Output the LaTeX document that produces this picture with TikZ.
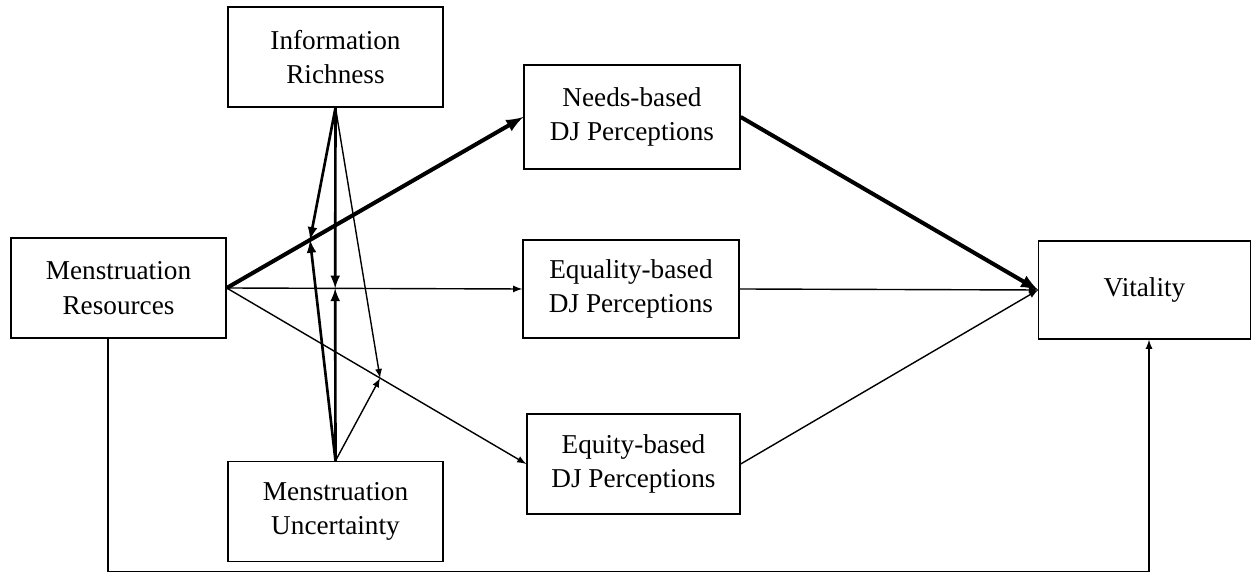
\documentclass[tikz,border=0pt]{standalone}
\usepackage{fontspec}
\setmainfont{Liberation Serif}
\begin{document}
\begin{tikzpicture}[x=0.02cm, y=-0.02cm, >=latex,
        box/.style={draw, line width=0.8pt, minimum width=4.3cm, minimum height=2cm,
            align=center, inner sep=0pt, font=\fontsize{15.5}{19.5}\selectfont},
        thinarr/.style={->, line width=0.8pt},
        midarr/.style={->, line width=1.5pt},
        thickarr/.style={->, line width=2.3pt}]
        \useasboundingbox (0,0) rectangle (1252,573);

        % predictor and moderators
        \node[box] (MR) at (118.5,288) {Menstruation\\Resources};
        \node[box] (IR) at (335.5,57) {Information\\Richness};
        \node[box] (MU) at (335.5,511.5) {Menstruation\\Uncertainty};

        % mediators
        \node[box, minimum width=4.32cm, minimum height=2.08cm] (ND) at (632,117) {Needs-based\\DJ Perceptions};
        \node[box, minimum width=4.32cm, minimum height=1.96cm] (EL) at (631,289) {Equality-based\\DJ Perceptions};
        \node[box, minimum width=4.26cm] (EQ) at (633.5,464) {Equity-based\\DJ Perceptions};

        % outcome
        \node[box, minimum width=4.23cm, minimum height=1.96cm] (VT) at (1144.5,290) {Vitality};

        % paths from resources to the perceptions
        \draw[thickarr] (MR.east) -- coordinate[pos=0.281] (m1) (ND.west);
        \draw[thinarr] (MR.east) -- coordinate[pos=0.367] (m2) (EL.west);
        \draw[thinarr] (MR.east) -- coordinate[pos=0.512] (m3) (EQ.west);

        % moderation
        \draw[midarr] (IR.south) -- (m1);
        \draw[midarr] (IR.south) -- (m2);
        \draw[thinarr] (IR.south) -- (m3);
        \draw[midarr] (MU.north) -- (m1);
        \draw[midarr] (MU.north) -- (m2);
        \draw[thinarr] (MU.north) -- (m3);

        % paths to vitality
        \draw[thickarr] (ND.east) -- (VT.west);
        \draw[thinarr] (EL.east) -- (VT.west);
        \draw[thinarr] (EQ.east) -- (VT.west);
        \draw[thinarr] ([xshift=-0.21cm]MR.south) -- ++(0,233) -| ([xshift=0.09cm]VT.south);
    \end{tikzpicture}
\end{document}
